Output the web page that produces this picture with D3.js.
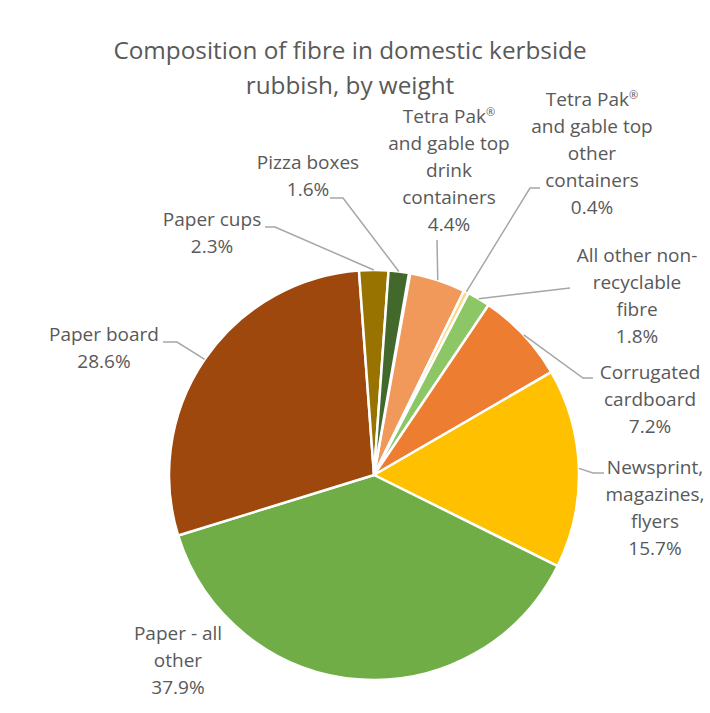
<!DOCTYPE html>
<html>
<head>
<meta charset="utf-8">
<script src="https://cdn.jsdelivr.net/npm/d3@7"></script>
<style>
  html, body { margin: 0; padding: 0; background: #fff; }
  svg { display: block; }
  text { font-family: "Open Sans", "Noto Sans", sans-serif; fill: #595959; }
</style>
</head>
<body>
<svg id="chart" width="710" height="713"></svg>
<script>
// ---- data ----
const categories = [
  "Tetra Pak® and gable top drink containers",
  "Tetra Pak® and gable top other containers",
  "All other non-recyclable fibre",
  "Corrugated cardboard",
  "Newsprint, magazines, flyers",
  "Paper - all other",
  "Paper board",
  "Paper cups",
  "Pizza boxes"
];
const values = [4.4, 0.4, 1.8, 7.2, 15.7, 37.9, 28.6, 2.3, 1.6];
const labelLines = [
  ["Tetra Pak®", "and gable top", "drink", "containers"],
  ["Tetra Pak®", "and gable top", "other", "containers"],
  ["All other non-", "recyclable", "fibre"],
  ["Corrugated", "cardboard"],
  ["Newsprint,", "magazines,", "flyers"],
  ["Paper - all", "other"],
  ["Paper board"],
  ["Paper cups"],
  ["Pizza boxes"]
];
const colors = ["#F1985B", "#FFD580", "#8CC665", "#ED7D31", "#FFC000", "#70AD47", "#9E480E", "#997300", "#43682B"];
const titleLines = ["Composition of fibre in domestic kerbside", "rubbish, by weight"];

// ---- layout ----
const cx = 374, cy = 475, R = 205;
const startDeg = 10.2;
const lineH = 27;
const labelLayout = [
  { x: 449, y: 123, leader: [[437, 240]] },
  { x: 592, y: 106, leader: [[540, 188], [530, 188]] },
  { x: 637, y: 262, leader: [[570, 288]] },
  { x: 650, y: 379, leader: [[593, 378], [583, 378]] },
  { x: 655, y: 474, leader: [[604, 473], [593, 473]] },
  { x: 178, y: 640, leader: null },
  { x: 104, y: 341, leader: [[163, 342], [177, 342]] },
  { x: 212, y: 226, leader: [[265, 227], [275, 227]] },
  { x: 308, y: 169, leader: [[330, 198], [343, 198]] }
];

const svg = d3.select("#chart");

// title
svg.append("g").selectAll("text").data(titleLines).join("text")
  .attr("x", 350).attr("y", (d, i) => 59 + i * 35)
  .attr("text-anchor", "middle")
  .style("font-size", "24.3px")
  .text(d => d);

const data = categories.map((c, i) => ({ cat: c, value: values[i], color: colors[i], lines: labelLines[i], layout: labelLayout[i] }));

const pie = d3.pie().value(d => d.value).sort(null)
  .startAngle(startDeg * Math.PI / 180)
  .endAngle(startDeg * Math.PI / 180 + 2 * Math.PI * d3.sum(values) / 100);
const arcs = pie(data);
const arc = d3.arc().innerRadius(0).outerRadius(R);

const g = svg.append("g").attr("transform", `translate(${cx},${cy})`);
g.selectAll("path").data(arcs).join("path")
  .attr("d", arc)
  .attr("fill", d => d.data.color)
  .attr("stroke", "#fff")
  .attr("stroke-width", 2.5)
  .attr("stroke-linejoin", "round");

// leader lines
const line = d3.line();
arcs.forEach(a => {
  const L = a.data.layout;
  if (!L.leader) return;
  const mid = (a.startAngle + a.endAngle) / 2;
  const p = [cx + R * Math.sin(mid), cy - R * Math.cos(mid)];
  const pts = L.leader.concat([p]);
  svg.append("path")
    .attr("d", line(pts))
    .attr("fill", "none")
    .attr("stroke", "#A6A6A6")
    .attr("stroke-width", 1.5);
});

// labels
arcs.forEach(a => {
  const L = a.data.layout;
  const lines = a.data.lines.concat([d3.format(".1f")(a.data.value) + "%"]);
  const t = svg.append("g").selectAll("text").data(lines).join("text")
    .attr("x", L.x).attr("y", (d, i) => L.y + i * lineH)
    .attr("text-anchor", "middle")
    .style("font-size", "19px");
  t.each(function(d) {
    const el = d3.select(this);
    const parts = d.split("®");
    el.append("tspan").text(parts[0]);
    if (parts.length > 1) {
      el.append("tspan").attr("dy", -7).style("font-size", "11px").text("®");
      el.append("tspan").attr("dy", 7).text(parts[1]);
    }
  });
});
</script>
</body>
</html>
